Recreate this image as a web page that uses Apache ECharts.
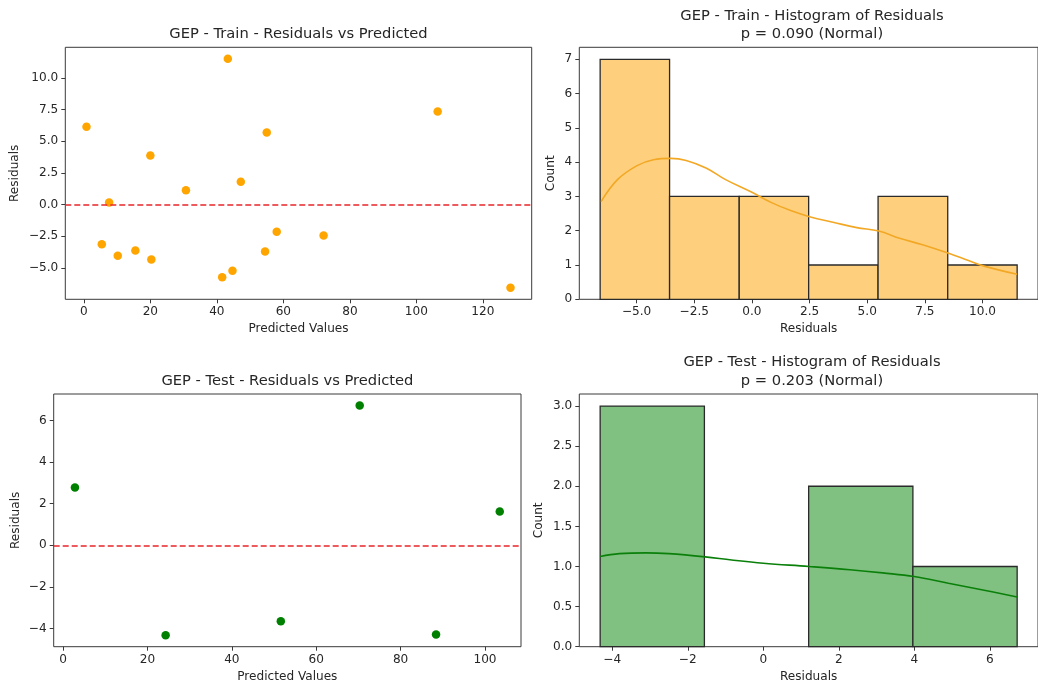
<!DOCTYPE html>
<html>
<head>
<meta charset="utf-8">
<title>GEP residual diagnostics</title>
<script src="https://cdn.jsdelivr.net/npm/echarts@6/dist/echarts.min.js"></script>
<style>
  html, body { margin: 0; padding: 0; background: #ffffff; }
  #chart { width: 1038px; height: 686px; }
</style>
</head>
<body>
<div id="chart"></div>
<script>
// ---- Train set: predicted values and residuals ----
const trainPredicted = [0.8, 7.6, 5.4, 10.2, 15.5, 20.0, 20.3, 30.7, 41.6, 43.3, 44.7, 47.2, 54.5, 55.0, 58.0, 72.1, 106.4, 128.3];
const trainResiduals = [6.13, 0.16, -3.13, -4.05, -3.63, 3.87, -4.34, 1.13, -5.74, 11.5, -5.24, 1.79, -3.71, 5.68, -2.16, -2.45, 7.34, -6.58];

// ---- Test set: predicted values and residuals ----
const testPredicted = [2.8, 24.3, 51.6, 70.3, 88.4, 103.5];
const testResiduals = [2.78, -4.32, -3.65, 6.72, -4.28, 1.62];

// ---- Histogram bins (edges) and counts ----
const trainBinEdges = [-6.58, -3.57, -0.55, 2.46, 5.47, 8.49, 11.5];
const trainCounts = [7, 3, 3, 1, 3, 1];
const testBinEdges = [-4.32, -1.56, 1.2, 3.96, 6.72];
const testCounts = [3, 0, 2, 1];

// ---- KDE curves (count scale) ----
const trainKdeX = [-6.54, -5.83, -4.98, -4.27, -3.51, -2.85, -1.99, -1.14, 0.0, 0.85, 1.71, 2.5, 3.56, 4.55, 5.5, 6.4, 7.4, 8.53, 9.39, 10.1, 11.5];
const trainKdeY = [2.85, 3.49, 3.9, 4.07, 4.11, 4.05, 3.83, 3.49, 3.12, 2.82, 2.58, 2.41, 2.24, 2.09, 1.99, 1.78, 1.59, 1.34, 1.13, 0.96, 0.73];
const testKdeX = [-4.32, -3.81, -3.11, -2.5, -1.54, -0.84, 0.0, 1.21, 2.29, 3.16, 3.99, 4.9, 5.78, 6.72];
const testKdeY = [1.125, 1.16, 1.17, 1.16, 1.12, 1.08, 1.04, 1.0, 0.96, 0.92, 0.875, 0.79, 0.71, 0.62];

// ---- Tick labels ----
const trainPredTicks = [0, 20, 40, 60, 80, 100, 120];
const trainResTicks = [-5.0, -2.5, 0.0, 2.5, 5.0, 7.5, 10.0];
const trainHistXTicks = [-5.0, -2.5, 0.0, 2.5, 5.0, 7.5, 10.0];
const trainHistYTicks = [0, 1, 2, 3, 4, 5, 6, 7];
const testPredTicks = [0, 20, 40, 60, 80, 100];
const testResTicks = [-4, -2, 0, 2, 4, 6];
const testHistXTicks = [-4, -2, 0, 2, 4, 6];
const testHistYTicks = [0.0, 0.5, 1.0, 1.5, 2.0, 2.5, 3.0];

// ---- Titles ----
const titles = [
  'GEP - Train - Residuals vs Predicted',
  'GEP - Train - Histogram of Residuals\np = 0.090 (Normal)',
  'GEP - Test - Residuals vs Predicted',
  'GEP - Test - Histogram of Residuals\np = 0.203 (Normal)'
];

const FONT = 'DejaVu Sans';
const TEXT = '#262626';
const FRAME = '#3a3a3a';
const TICK_FS = 12.1;
const TITLE_FS = 14.7;

// 5% autoscale padding on each side, like the plotting defaults
function padded(lo, hi) {
  const m = (hi - lo) * 0.05;
  return [lo - m, hi + m];
}
const minus = (s) => s.replace('-', '\u2212');
const fmt1 = (v) => minus(Number(v).toFixed(1));
const fmt0 = (v) => minus(String(Math.round(v)));

function valueAxis(gridIndex, range, ticks, fmt, extra) {
  return Object.assign({
    type: 'value',
    gridIndex: gridIndex,
    min: range[0],
    max: range[1],
    axisLine: { show: false, onZero: false },
    splitLine: { show: false },
    axisTick: { show: true, length: 4, inside: false, customValues: ticks, lineStyle: { color: FRAME, width: 1 } },
    axisLabel: { customValues: ticks, formatter: fmt, color: TEXT, fontFamily: FONT, fontSize: TICK_FS, margin: 7 },
    nameLocation: 'middle',
    nameTextStyle: { color: TEXT, fontFamily: FONT, fontSize: TICK_FS }
  }, extra || {});
}

const tlX = padded(Math.min(...trainPredicted), Math.max(...trainPredicted));
const tlY = padded(Math.min(...trainResiduals), Math.max(...trainResiduals));
const trX = padded(trainBinEdges[0], trainBinEdges[trainBinEdges.length - 1]);
const trY = [0, Math.max(...trainCounts) * 1.05];
const blX = padded(Math.min(...testPredicted), Math.max(...testPredicted));
const blY = padded(Math.min(...testResiduals), Math.max(...testResiduals));
const brX = padded(testBinEdges[0], testBinEdges[testBinEdges.length - 1]);
const brY = [0, Math.max(...testCounts) * 1.05];

function histData(edges, counts) {
  return counts.map((c, i) => [edges[i], edges[i + 1], c]);
}
function histSeries(xi, edges, counts, fill) {
  return {
    type: 'custom',
    xAxisIndex: xi,
    yAxisIndex: xi,
    data: histData(edges, counts),
    encode: { x: [0, 1], y: 2 },
    z: 2,
    renderItem: function (params, api) {
      const h = api.value(2);
      if (h <= 0) return null;
      const p0 = api.coord([api.value(0), 0]);
      const p1 = api.coord([api.value(1), h]);
      return {
        type: 'rect',
        shape: { x: p0[0], y: p1[1], width: p1[0] - p0[0], height: p0[1] - p1[1] },
        style: { fill: fill, stroke: '#2a2a2a', lineWidth: 1.3 }
      };
    }
  };
}
function zip(a, b) { return a.map((v, i) => [v, b[i]]); }

const grids = [
  { left: 65.3, top: 47.3, width: 466.4, height: 252 },
  { left: 579.3, top: 47.3, width: 466.2, height: 252 },
  { left: 53.7, top: 394, width: 467.3, height: 252.7 },
  { left: 579.3, top: 394, width: 466.2, height: 252.7 }
].map(g => Object.assign({ show: true, borderColor: FRAME, borderWidth: 1, backgroundColor: 'transparent' }, g));

const titleSpec = [
  { cx: 298.5, top: 25 },
  { cx: 812, top: 6.5 },
  { cx: 287.4, top: 371.5 },
  { cx: 812, top: 353 }
];

const option = {
  animation: false,
  backgroundColor: '#ffffff',
  title: titles.map((t, i) => ({
    text: t,
    left: titleSpec[i].cx,
    top: titleSpec[i].top,
    textAlign: 'center',
    padding: 0,
    textStyle: { color: TEXT, fontFamily: FONT, fontSize: TITLE_FS, fontWeight: 'normal', lineHeight: 18.5 }
  })),
  grid: grids,
  xAxis: [
    valueAxis(0, tlX, trainPredTicks, fmt0, { name: 'Predicted Values', nameGap: 24 }),
    valueAxis(1, trX, trainHistXTicks, fmt1, { name: 'Residuals', nameGap: 24 }),
    valueAxis(2, blX, testPredTicks, fmt0, { name: 'Predicted Values', nameGap: 24 }),
    valueAxis(3, brX, testHistXTicks, fmt0, { name: 'Residuals', nameGap: 24 })
  ],
  yAxis: [
    valueAxis(0, tlY, trainResTicks, fmt1, { name: 'Residuals', nameGap: 44 }),
    valueAxis(1, trY, trainHistYTicks, fmt0, { name: 'Count', nameGap: 22 }),
    valueAxis(2, blY, testResTicks, fmt0, { name: 'Residuals', nameGap: 32 }),
    valueAxis(3, brY, testHistYTicks, fmt1, { name: 'Count', nameGap: 34 })
  ],
  series: [
    {
      type: 'scatter',
      xAxisIndex: 0, yAxisIndex: 0,
      data: zip(trainPredicted, trainResiduals),
      symbolSize: 8.5,
      itemStyle: { color: '#FFA500', opacity: 1 },
      z: 3,
      markLine: {
        silent: true,
        symbol: 'none',
        label: { show: false },
        lineStyle: { color: '#e8262b', type: [6, 3], width: 1.6 },
        data: [{ yAxis: 0 }]
      }
    },
    histSeries(1, trainBinEdges, trainCounts, '#FED07E'),
    {
      type: 'line',
      xAxisIndex: 1, yAxisIndex: 1,
      data: zip(trainKdeX, trainKdeY),
      smooth: 0.4,
      showSymbol: false,
      lineStyle: { color: '#F2A824', width: 1.6 },
      z: 4
    },
    {
      type: 'scatter',
      xAxisIndex: 2, yAxisIndex: 2,
      data: zip(testPredicted, testResiduals),
      symbolSize: 8.5,
      itemStyle: { color: '#008000', opacity: 1 },
      z: 3,
      markLine: {
        silent: true,
        symbol: 'none',
        label: { show: false },
        lineStyle: { color: '#e8262b', type: [6, 3], width: 1.6 },
        data: [{ yAxis: 0 }]
      }
    },
    histSeries(3, testBinEdges, testCounts, '#80C080'),
    {
      type: 'line',
      xAxisIndex: 3, yAxisIndex: 3,
      data: zip(testKdeX, testKdeY),
      smooth: 0.4,
      showSymbol: false,
      lineStyle: { color: '#0a800a', width: 1.6 },
      z: 4
    }
  ]
};

const chart = echarts.init(document.getElementById('chart'), null, { renderer: 'canvas' });
chart.setOption(option);
</script>
</body>
</html>
